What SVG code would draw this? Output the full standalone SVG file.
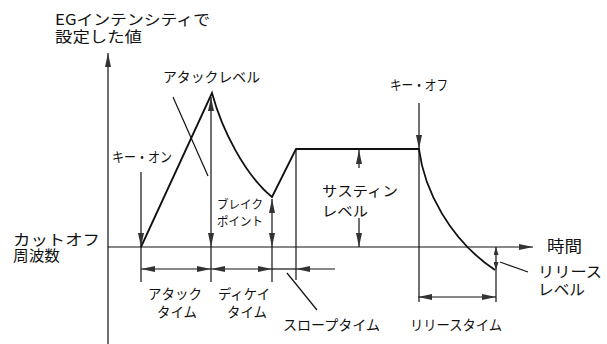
<svg xmlns="http://www.w3.org/2000/svg" width="607" height="344" viewBox="0 0 607 344">
<style>
.t{font-family:"Noto Sans CJK JP","Noto Sans CJK SC",sans-serif;fill:#111;}
.ln{stroke:#111;stroke-width:1.2;fill:none;}
.env{stroke:#111;stroke-width:1.8;fill:none;}
</style>
<defs>
<marker id="ah" viewBox="0 0 14 6" refX="14" refY="3" markerWidth="14" markerHeight="6" markerUnits="userSpaceOnUse" orient="auto-start-reverse"><path d="M0,0 L14,3 L0,6 z" fill="#333"/></marker>
<marker id="as" viewBox="0 0 8 5" refX="8" refY="2.5" markerWidth="8" markerHeight="5" markerUnits="userSpaceOnUse" orient="auto-start-reverse"><path d="M0,0 L8,2.5 L0,5 z" fill="#333"/></marker>
</defs>
<rect width="607" height="344" fill="#fff"/>
<g id="axes">
<line class="ln" x1="108" y1="344" x2="108" y2="53" marker-end="url(#ah)"/>
<line class="ln" x1="108" y1="247" x2="533" y2="247" marker-end="url(#ah)"/>
</g>
<g id="envelope">
<path class="env" d="M141,247 L212,93 C222,130 245,175 272,197 L296,149 L419,149 C424,190 450,240 495,270"/>
</g>
<g id="connectors">
<line class="ln" x1="141" y1="172" x2="141" y2="247" marker-end="url(#ah)"/>
<line class="ln" x1="141" y1="247" x2="141" y2="282"/>
<line class="ln" x1="211" y1="97" x2="211" y2="247" marker-start="url(#ah)" marker-end="url(#ah)"/>
<line class="ln" x1="211" y1="247" x2="211" y2="282"/>
<line class="ln" x1="272" y1="199" x2="272" y2="247" marker-start="url(#ah)" marker-end="url(#ah)"/>
<line class="ln" x1="272" y1="247" x2="272" y2="282"/>
<line class="ln" x1="296" y1="149" x2="296" y2="280"/>
<line class="ln" x1="359" y1="168" x2="359" y2="150" marker-end="url(#ah)"/>
<line class="ln" x1="359" y1="218" x2="359" y2="247" marker-end="url(#ah)"/>
<line class="ln" x1="419" y1="103" x2="419" y2="149" marker-end="url(#ah)"/>
<line class="ln" x1="419" y1="149" x2="419" y2="302" stroke-width="0.9"/>
<line class="ln" x1="496" y1="247" x2="496" y2="270" marker-start="url(#as)" marker-end="url(#as)"/>
<line class="ln" x1="496" y1="270" x2="496" y2="302"/>
<line class="ln" x1="141" y1="269" x2="211" y2="269" marker-start="url(#ah)" marker-end="url(#ah)"/>
<line class="ln" x1="211" y1="269" x2="272" y2="269" marker-start="url(#ah)" marker-end="url(#ah)"/>
<line class="ln" x1="272" y1="269" x2="296" y2="269" stroke-width="2"/>
<line class="ln" x1="335" y1="269" x2="296" y2="269" marker-end="url(#ah)"/>
<line class="ln" x1="418" y1="297" x2="496" y2="297" marker-start="url(#ah)" marker-end="url(#ah)"/>
<line class="ln" x1="173" y1="97" x2="208" y2="176"/>
<line class="ln" x1="287" y1="273" x2="317" y2="310"/>
<line class="ln" x1="528" y1="272" x2="500" y2="262"/>
</g>
<g id="labels">
<text class="t" x="55" y="25" font-size="15" textLength="155" lengthAdjust="spacingAndGlyphs">EGインテンシティで</text>
<text class="t" x="55" y="42" font-size="15" textLength="87" lengthAdjust="spacingAndGlyphs">設定した値</text>
<text class="t" x="163" y="82" font-size="14" textLength="97" lengthAdjust="spacingAndGlyphs">アタックレベル</text>
<text class="t" x="112" y="162" font-size="14" textLength="60" lengthAdjust="spacingAndGlyphs">キー・オン</text>
<text class="t" x="390" y="90" font-size="14" textLength="58" lengthAdjust="spacingAndGlyphs">キー・オフ</text>
<text class="t" x="217" y="209" font-size="12" textLength="46" lengthAdjust="spacingAndGlyphs">ブレイク</text>
<text class="t" x="217" y="226" font-size="12" textLength="46" lengthAdjust="spacingAndGlyphs">ポイント</text>
<text class="t" x="322" y="196" font-size="14" textLength="76" lengthAdjust="spacingAndGlyphs">サスティン</text>
<text class="t" x="322" y="216" font-size="14" textLength="46" lengthAdjust="spacingAndGlyphs">レベル</text>
<text class="t" x="13" y="245" font-size="15" textLength="87" lengthAdjust="spacingAndGlyphs">カットオフ</text>
<text class="t" x="13" y="261" font-size="15" textLength="47" lengthAdjust="spacingAndGlyphs">周波数</text>
<text class="t" x="547" y="252" font-size="16" textLength="35" lengthAdjust="spacingAndGlyphs">時間</text>
<text class="t" x="148" y="299" font-size="14" textLength="54" lengthAdjust="spacingAndGlyphs">アタック</text>
<text class="t" x="157" y="317" font-size="14" textLength="40" lengthAdjust="spacingAndGlyphs">タイム</text>
<text class="t" x="218" y="299" font-size="14" textLength="52" lengthAdjust="spacingAndGlyphs">ディケイ</text>
<text class="t" x="227" y="317" font-size="14" textLength="40" lengthAdjust="spacingAndGlyphs">タイム</text>
<text class="t" x="283" y="330" font-size="14" textLength="97" lengthAdjust="spacingAndGlyphs">スロープタイム</text>
<text class="t" x="410" y="330" font-size="14" textLength="92" lengthAdjust="spacingAndGlyphs">リリースタイム</text>
<text class="t" x="538" y="277" font-size="15" textLength="64" lengthAdjust="spacingAndGlyphs">リリース</text>
<text class="t" x="538" y="295" font-size="15" textLength="47" lengthAdjust="spacingAndGlyphs">レベル</text>
</g>
</svg>
